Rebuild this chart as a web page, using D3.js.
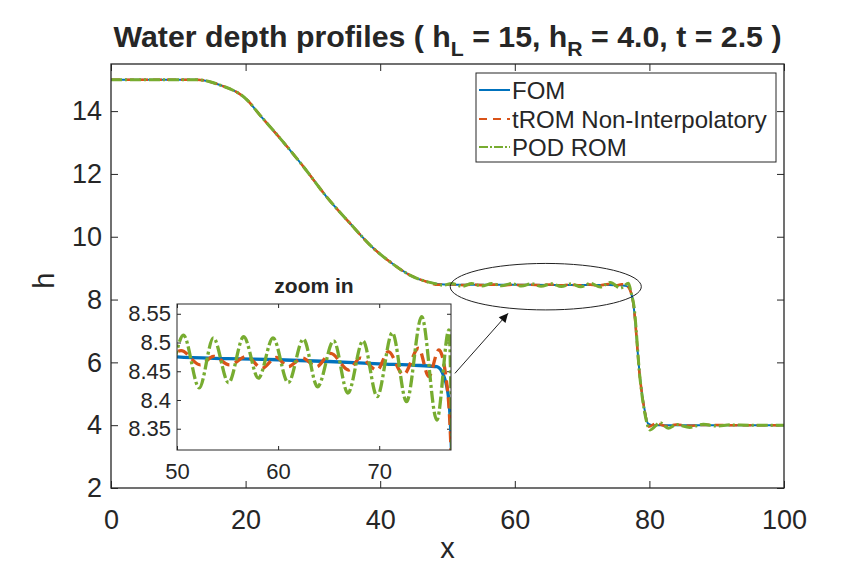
<!DOCTYPE html>
<html>
<head>
<meta charset="utf-8">
<script src="https://cdn.jsdelivr.net/npm/d3@7"></script>
<style>
  body { margin: 0; background: #fff; }
  text { font-family: "Liberation Sans", Arial, Helvetica, sans-serif; fill: #262626; }
</style>
</head>
<body>
<div id="chart"></div>
<script>
// ---- data ----
var fomX = [0, 10, 12.7, 16.2, 20.2, 22.1, 25.1, 28.6, 32.0, 35.5, 39.0, 41.4, 44.4, 46.9, 50, 55, 60, 65, 70, 74, 75.7, 76.4, 76.9, 77.1, 77.6, 78.6, 79.3, 79.8, 80.5, 90, 100];
var fomH = [15, 15, 15, 14.83, 14.36, 13.88, 13.14, 12.23, 11.28, 10.43, 9.63, 9.21, 8.78, 8.57, 8.475, 8.472, 8.470, 8.467, 8.463, 8.460, 8.458, 8.441, 8.398, 8.336, 7.88, 5.54, 4.48, 4.05, 4.0, 4.0, 4.0];

var tromX = [0, 10, 12.7, 16.2, 20.2, 22.1, 25.1, 28.6, 32.0, 35.5, 39.0, 41.4, 44.4, 46.9, 48.6, 50.4, 52.3, 53.6, 55.2, 56.9, 58.4, 59.8, 61.0, 62.4, 63.8, 65.2, 67.0, 68.1, 69.8, 70.9, 72.4, 73.9, 74.9, 75.9, 76.6, 77.1, 77.6, 78.6, 79.3, 79.9, 81, 82.5, 84, 86, 88, 92, 100];
var tromH = [15, 15, 15, 14.83, 14.36, 13.88, 13.14, 12.23, 11.28, 10.43, 9.63, 9.21, 8.78, 8.57, 8.47, 8.486, 8.461, 8.476, 8.461, 8.476, 8.455, 8.474, 8.458, 8.473, 8.458, 8.481, 8.452, 8.473, 8.452, 8.484, 8.444, 8.490, 8.441, 8.487, 8.44, 8.313, 7.9, 5.5, 4.45, 3.95, 4.06, 3.97, 4.02, 3.98, 4.01, 4.0, 4.0];

var podX = [0, 10, 12.7, 16.2, 20.2, 22.1, 25.1, 28.6, 32.0, 35.5, 39.0, 41.4, 44.4, 46.9, 48.3, 49.3, 50.63, 52.2, 53.6, 55.1, 56.6, 58.05, 59.5, 61.0, 62.5, 63.9, 65.5, 66.9, 68.4, 69.8, 71.3, 72.7, 74.2, 75.7, 76.9, 77.3, 77.7, 78.6, 79.3, 80.1, 81.6, 82.8, 84.0, 86, 88, 90, 92, 95, 100];
var podH = [15, 15, 15, 14.83, 14.36, 13.88, 13.14, 12.23, 11.28, 10.43, 9.63, 9.21, 8.78, 8.57, 8.50, 8.455, 8.513, 8.421, 8.508, 8.430, 8.510, 8.438, 8.508, 8.430, 8.506, 8.423, 8.503, 8.412, 8.503, 8.406, 8.517, 8.397, 8.545, 8.365, 8.522, 8.2, 7.8, 5.5, 4.4, 3.85, 4.08, 3.9, 4.02, 3.93, 4.03, 3.97, 4.01, 4.0, 4.0];

var seriesNames = ["FOM", "tROM Non-Interpolatory", "POD ROM"];
var xTicks = [0, 20, 40, 60, 80, 100];
var yTicks = [2, 4, 6, 8, 10, 12, 14];
var zoomXTicks = [50, 60, 70];
var zoomYTicks = [8.35, 8.4, 8.45, 8.5, 8.55];

// ellipse + arrow annotation, in data units
var ringCenter = [64.6, 8.41], ringRadius = [14.2, 0.74];
var arrowFrom = [51.1, 5.65], arrowTo = [59.0, 7.56];

var colors = ["#0072BD", "#D95319", "#77AC30"];

var W = 868, H = 572;
var margin = {top: 64, right: 84, bottom: 84, left: 111},
    width = W - margin.left - margin.right,
    height = H - margin.top - margin.bottom;

var svg = d3.select("#chart").append("svg")
    .attr("width", W)
    .attr("height", H);

var g = svg.append("g")
    .attr("transform", "translate(" + margin.left + "," + margin.top + ")");

var x = d3.scaleLinear().domain([0, 100]).range([0, width]);
var y = d3.scaleLinear().domain([2, 15.5]).range([height, 0]);

function zip(xs, hs) { return xs.map(function(v, i) { return [v, hs[i]]; }); }
var series = [zip(fomX, fomH), zip(tromX, tromH), zip(podX, podH)];

// axes with inward ticks on all four sides
g.append("g")
    .attr("transform", "translate(0," + height + ")")
    .call(d3.axisBottom(x).tickValues(xTicks).tickSize(-7).tickPadding(22))
    .call(function(a) { a.select(".domain").remove(); a.selectAll("text").attr("font-size", 27).attr("fill", "#262626"); });
g.append("g")
    .call(d3.axisTop(x).tickValues(xTicks).tickSize(-7).tickFormat(""))
    .call(function(a) { a.select(".domain").remove(); });
g.append("g")
    .call(d3.axisLeft(y).tickValues(yTicks).tickSize(-7).tickPadding(9))
    .call(function(a) { a.select(".domain").remove(); a.selectAll("text").attr("font-size", 27).attr("fill", "#262626"); });
g.append("g")
    .attr("transform", "translate(" + width + ",0)")
    .call(d3.axisRight(y).tickValues(yTicks).tickSize(-7).tickFormat(""))
    .call(function(a) { a.select(".domain").remove(); });
g.selectAll(".tick line").attr("stroke", "#262626");

var line = d3.line()
    .curve(d3.curveMonotoneX)
    .x(function(d) { return x(d[0]); })
    .y(function(d) { return y(d[1]); });

var dashes = [null, "9,5", "11,3,2,3"];
var widths = [2, 2.6, 3];

g.selectAll(".series")
  .data(series)
  .enter().append("path")
    .attr("fill", "none")
    .attr("stroke", function(d, i) { return colors[i]; })
    .attr("stroke-width", function(d, i) { return widths[i]; })
    .attr("stroke-dasharray", function(d, i) { return dashes[i]; })
    .attr("d", line);

g.append("rect")
    .attr("width", width).attr("height", height)
    .attr("fill", "none").attr("stroke", "#262626").attr("stroke-width", 1.3);

// ellipse + arrow
g.append("ellipse")
    .attr("cx", x(ringCenter[0])).attr("cy", y(ringCenter[1]))
    .attr("rx", x(ringCenter[0] + ringRadius[0]) - x(ringCenter[0]))
    .attr("ry", y(ringCenter[1] - ringRadius[1]) - y(ringCenter[1]))
    .attr("fill", "none").attr("stroke", "#222").attr("stroke-width", 1);

svg.append("defs").append("marker")
    .attr("id", "head")
    .attr("viewBox", "0 0 10 10")
    .attr("refX", 10).attr("refY", 5)
    .attr("markerWidth", 13).attr("markerHeight", 9)
    .attr("markerUnits", "userSpaceOnUse")
    .attr("orient", "auto")
  .append("path").attr("d", "M0,0L10,5L0,10z").attr("fill", "#111");

g.append("line")
    .attr("x1", x(arrowFrom[0])).attr("y1", y(arrowFrom[1]))
    .attr("x2", x(arrowTo[0])).attr("y2", y(arrowTo[1]))
    .attr("stroke", "#222").attr("stroke-width", 1)
    .attr("marker-end", "url(#head)");

// labels
svg.append("text")
    .attr("x", margin.left + width / 2).attr("y", 558)
    .attr("text-anchor", "middle").attr("font-size", 29).text("x");
svg.append("text")
    .attr("transform", "translate(54," + (margin.top + y(8.6)) + ") rotate(-90)")
    .attr("text-anchor", "middle").attr("font-size", 29).text("h");

var title = svg.append("text")
    .attr("x", margin.left + width / 2).attr("y", 47)
    .attr("text-anchor", "middle").attr("font-size", 30).attr("font-weight", "bold")
    .attr("fill", "#000")
    .attr("textLength", 668).attr("lengthAdjust", "spacingAndGlyphs");
title.append("tspan").text("Water depth profiles ( h");
title.append("tspan").attr("font-size", 21).attr("dy", 9).text("L");
title.append("tspan").attr("dy", -9).text(" = 15, h");
title.append("tspan").attr("font-size", 21).attr("dy", 9).text("R");
title.append("tspan").attr("dy", -9).text(" = 4.0, t = 2.5 )");

// legend
var leg = svg.append("g").attr("transform", "translate(476,73)");
leg.append("rect").attr("width", 300).attr("height", 89)
    .attr("fill", "#fff").attr("stroke", "#262626").attr("stroke-width", 1);
var rowY = [17, 46, 74];
seriesNames.forEach(function(name, i) {
  leg.append("line")
      .attr("x1", 3).attr("x2", 34).attr("y1", rowY[i]).attr("y2", rowY[i])
      .attr("stroke", colors[i]).attr("stroke-width", 2)
      .attr("stroke-dasharray", i === 1 ? "8,6" : (i === 2 ? "9,2,2,2" : null));
  leg.append("text")
      .attr("x", 36).attr("y", rowY[i]).attr("dy", "0.36em")
      .attr("font-size", 24).attr("fill", "#000").text(name);
});

// inset
var ins = {left: 177, top: 304, width: 274, height: 146};
var zx = d3.scaleLinear().domain([50, 77.1]).range([0, ins.width]);
var zy = d3.scaleLinear().domain([8.313, 8.567]).range([ins.height, 0]);

var zg = svg.append("g").attr("transform", "translate(" + ins.left + "," + ins.top + ")");
zg.append("rect").attr("width", ins.width).attr("height", ins.height).attr("fill", "#fff");

svg.select("defs").append("clipPath").attr("id", "zclip")
  .append("rect").attr("width", ins.width).attr("height", ins.height);

zg.append("g")
    .attr("transform", "translate(0," + ins.height + ")")
    .call(d3.axisBottom(zx).tickValues(zoomXTicks).tickSize(-4).tickPadding(13))
    .call(function(a) { a.select(".domain").remove(); a.selectAll("text").attr("font-size", 22).attr("fill", "#262626"); });
zg.append("g")
    .call(d3.axisTop(zx).tickValues(zoomXTicks).tickSize(-4).tickFormat(""))
    .call(function(a) { a.select(".domain").remove(); });
zg.append("g")
    .call(d3.axisLeft(zy).tickValues(zoomYTicks).tickSize(-4).tickPadding(6).tickFormat(d3.format("")))
    .call(function(a) { a.select(".domain").remove(); a.selectAll("text").attr("font-size", 22).attr("fill", "#262626"); });
zg.append("g")
    .attr("transform", "translate(" + ins.width + ",0)")
    .call(d3.axisRight(zy).tickValues(zoomYTicks).tickSize(-4).tickFormat(""))
    .call(function(a) { a.select(".domain").remove(); });
zg.selectAll(".tick line").attr("stroke", "#262626");

var zline = d3.line()
    .curve(d3.curveMonotoneX)
    .x(function(d) { return zx(d[0]); })
    .y(function(d) { return zy(d[1]); });

var zdashes = [null, "11,6", "12,3,3,3"];
zg.append("g").attr("clip-path", "url(#zclip)")
  .selectAll("path")
  .data(series)
  .enter().append("path")
    .attr("fill", "none")
    .attr("stroke", function(d, i) { return colors[i]; })
    .attr("stroke-width", 3.3)
    .attr("stroke-dasharray", function(d, i) { return zdashes[i]; })
    .attr("d", zline);

zg.append("rect").attr("width", ins.width).attr("height", ins.height)
    .attr("fill", "none").attr("stroke", "#262626").attr("stroke-width", 1);

zg.append("text")
    .attr("x", ins.width / 2).attr("y", -11)
    .attr("text-anchor", "middle").attr("font-size", 21).attr("font-weight", "bold")
    .attr("fill", "#000").text("zoom in");
</script>
</body>
</html>
